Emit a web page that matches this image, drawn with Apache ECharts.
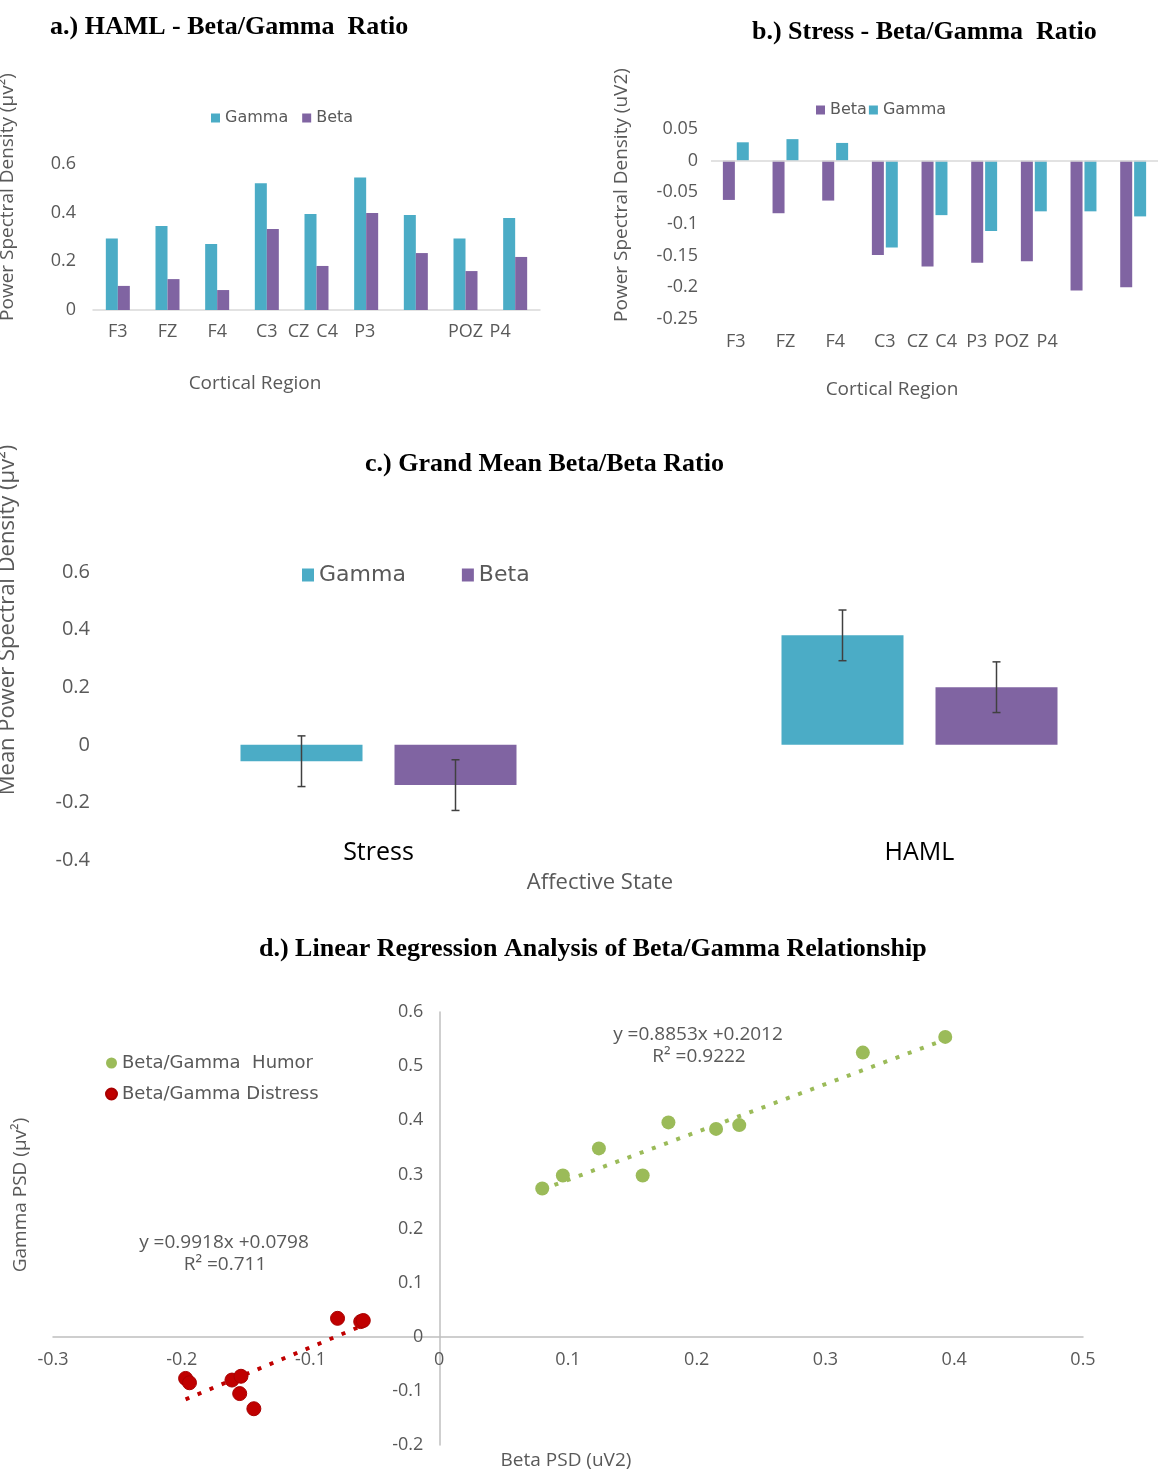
<!DOCTYPE html>
<html>
<head>
<meta charset="utf-8">
<script src="https://cdn.jsdelivr.net/npm/echarts@6/dist/echarts.min.js"></script>
<style>
  html, body { margin: 0; padding: 0; background: #fff; overflow: hidden; }
  /* a little wider than the window: panel c's plot area runs past the right edge */
  #chart { width: 1200px; height: 1470px; }
</style>
</head>
<body>
<div id="chart"></div>
<script>
// cortical regions (panels a and b)
const regions = ['F3', 'FZ', 'F4', 'C3', 'CZ', 'C4', 'P3', 'POZ', 'P4']
// a.) HAML
const hamlGamma = [0.294, 0.345, 0.271, 0.521, 0.395, 0.545, 0.390, 0.294, 0.378]
const hamlBeta = [0.099, 0.127, 0.082, 0.333, 0.181, 0.399, 0.234, 0.160, 0.218]
// b.) Stress
const stressBeta = [-0.062, -0.083, -0.063, -0.149, -0.167, -0.161, -0.159, -0.205, -0.200]
const stressGamma = [0.029, 0.034, 0.028, -0.137, -0.086, -0.111, -0.080, -0.080, -0.088]
// c.) grand means
const states = ['Stress', 'HAML']
const meanGamma = [-0.057, 0.380]
const meanBeta = [-0.140, 0.200]
const errGamma = [0.088, 0.088]
const errBeta = [0.088, 0.088]
// d.) regression (beta, gamma)
const humorPts = [[0.080, 0.274], [0.096, 0.298], [0.124, 0.348], [0.158, 0.298], [0.178, 0.396],
  [0.215, 0.384], [0.233, 0.391], [0.329, 0.525], [0.393, 0.554]]
const distressPts = [[-0.197, -0.077], [-0.194, -0.085], [-0.161, -0.080], [-0.154, -0.073], [-0.155, -0.105],
  [-0.144, -0.133], [-0.079, 0.034], [-0.061, 0.028], [-0.059, 0.030]]
const humorFit = [0.8853, 0.2012]
const distressFit = [0.9918, 0.0798]
const xRangeD = [-0.3, 0.5]
const yRangeD = [-0.2, 0.6]

const GAMMA = '#4bacc6'
const BETA = '#8064a2'
const GREEN = '#9bbb59'
const RED = '#c00000'
const GREY = '#595959'
const FONT = '"Open Sans", sans-serif'

// shift some category labels sideways (the original figure has them crowded)
function shifted(shifts, size) {
  const rich = {}
  shifts.forEach((dx, i) => {
    rich['s' + i] = {
      fontFamily: FONT, fontSize: size, color: GREY,
      padding: dx < 0 ? [0, -2 * dx, 0, 0] : [0, 0, 0, 2 * dx]
    }
  })
  return {
    rich,
    formatter: (v, i) => '{s' + i + '|' + v + '}'
  }
}
const shiftA = shifted([0, 0, 0, 0, -18, -39, -51, 0, -15], 18)
const shiftB = shifted([0, 0, 0, 0, -17, -38, -57, -72, -86], 18)

function fitLine(pts, fit) {
  const xs = pts.map(p => p[0])
  const lo = Math.min(...xs)
  const hi = Math.max(...xs)
  return [[lo, fit[0] * lo + fit[1]], [hi, fit[0] * hi + fit[1]]]
}

// error bar offsets inside a category of panel c
const C_BAR = 122
const C_GAP = 32
function errorSeries(name, means, errs, dir) {
  return {
    name: name + ' error',
    type: 'custom',
    xAxisIndex: 2,
    yAxisIndex: 2,
    z: 5,
    data: means.map((m, i) => [i, m - errs[i], m + errs[i]]),
    renderItem: (params, api) => {
      const lo = api.coord([api.value(0), api.value(1)])
      const hi = api.coord([api.value(0), api.value(2)])
      const x = lo[0] + dir * (C_BAR + C_GAP) / 2
      const st = { stroke: '#404040', lineWidth: 1.5 }
      return {
        type: 'group',
        children: [
          { type: 'line', shape: { x1: x, y1: lo[1], x2: x, y2: hi[1] }, style: st },
          { type: 'line', shape: { x1: x - 4, y1: lo[1], x2: x + 4, y2: lo[1] }, style: st },
          { type: 'line', shape: { x1: x - 4, y1: hi[1], x2: x + 4, y2: hi[1] }, style: st }
        ]
      }
    }
  }
}

function label(text, x, y, size, rot) {
  return {
    type: 'text', x, y, rotation: rot || 0, silent: true,
    style: { text, fill: GREY, font: size + 'px ' + FONT, align: 'center', verticalAlign: 'middle' }
  }
}

// panel d: axes cross at zero, move them (with their labels) in from the grid edges
const gridD = { left: 53, top: 1012, width: 1030, height: 433 }
const xAxisShiftD = -gridD.height * (0 - yRangeD[0]) / (yRangeD[1] - yRangeD[0])
const yAxisShiftD = -gridD.width * (0 - xRangeD[0]) / (xRangeD[1] - xRangeD[0])

const titleStyle = { fontFamily: '"Liberation Serif", serif', fontWeight: 'bold', fontSize: 26, color: '#000' }
const tickStyle = { fontFamily: FONT, fontSize: 18, color: GREY }
const noLine = { show: false }

const option = {
  backgroundColor: '#fff',
  animation: false,
  title: [
    { text: 'a.) HAML - Beta/Gamma  Ratio', left: 50, top: 14, padding: 0, textStyle: titleStyle },
    { text: 'b.) Stress - Beta/Gamma  Ratio', left: 752, top: 19, padding: 0, textStyle: titleStyle },
    { text: 'c.) Grand Mean Beta/Beta Ratio', left: 365, top: 451, padding: 0, textStyle: titleStyle },
    { text: 'd.) Linear Regression Analysis of Beta/Gamma Relationship', left: 259, top: 936, padding: 0, textStyle: titleStyle }
  ],
  legend: [
    {
      data: ['Gamma', 'Beta'], left: 211, top: 110, padding: 0, itemGap: 14,
      icon: 'rect', itemWidth: 9, itemHeight: 9,
      textStyle: { fontFamily: '"DejaVu Sans"', fontSize: 16, color: GREY }
    },
    {
      data: ['Beta', 'Gamma'], left: 816, top: 102, padding: 0, itemGap: 2,
      icon: 'rect', itemWidth: 9, itemHeight: 9,
      textStyle: { fontFamily: '"DejaVu Sans"', fontSize: 16, color: GREY }
    },
    {
      data: ['Gamma', 'Beta'], left: 302, top: 564, padding: 0, itemGap: 56,
      icon: 'rect', itemWidth: 12, itemHeight: 13,
      textStyle: { fontFamily: '"DejaVu Sans"', fontSize: 22, color: GREY }
    },
    {
      data: ['Beta/Gamma  Humor', 'Beta/Gamma Distress'], orient: 'vertical', left: 105, top: 1054,
      padding: 0, itemGap: 13, icon: 'circle', itemWidth: 11, itemHeight: 11,
      textStyle: { fontFamily: '"DejaVu Sans"', fontSize: 18, color: GREY }
    }
  ],
  grid: [
    { left: 93, top: 164, width: 447, height: 146 },
    { left: 711, top: 129, width: 447, height: 190 },
    { left: 108, top: 572, width: 1082, height: 288 },
    gridD
  ],
  xAxis: [
    {
      type: 'category', gridIndex: 0, data: regions,
      axisLine: { lineStyle: { color: '#d9d9d9', width: 1.5 } },
      axisTick: { length: 6, lineStyle: { color: '#d9d9d9', width: 1.5 } },
      axisLabel: Object.assign({ interval: 0, margin: 13 }, tickStyle, shiftA)
    },
    {
      type: 'category', gridIndex: 1, data: regions,
      axisLine: noLine, axisTick: noLine,
      axisLabel: Object.assign({ interval: 0, margin: 14 }, tickStyle, shiftB)
    },
    {
      type: 'category', gridIndex: 2, data: states,
      axisLine: noLine, axisTick: noLine,
      axisLabel: { margin: -20, fontFamily: FONT, fontSize: 25, color: '#000' }
    },
    {
      type: 'value', gridIndex: 3, min: xRangeD[0], max: xRangeD[1], interval: 0.1,
      offset: xAxisShiftD,
      splitLine: noLine, axisTick: noLine,
      axisLine: { onZero: false, lineStyle: { color: '#bfbfbf', width: 1.5 } },
      axisLabel: Object.assign({ margin: 14 }, tickStyle)
    }
  ],
  yAxis: [
    {
      type: 'value', gridIndex: 0, min: 0, max: 0.6, interval: 0.2,
      splitLine: noLine, axisLine: noLine, axisTick: noLine,
      axisLabel: Object.assign({ margin: 17 }, tickStyle)
    },
    {
      type: 'value', gridIndex: 1, min: -0.25, max: 0.05, interval: 0.05,
      splitLine: noLine, axisLine: noLine, axisTick: noLine,
      axisLabel: Object.assign({ margin: 13 }, tickStyle)
    },
    {
      type: 'value', gridIndex: 2, min: -0.4, max: 0.6, interval: 0.2,
      splitLine: noLine, axisLine: noLine, axisTick: noLine,
      axisLabel: { margin: 18, fontFamily: FONT, fontSize: 20, color: GREY }
    },
    {
      type: 'value', gridIndex: 3, min: yRangeD[0], max: yRangeD[1], interval: 0.1,
      offset: yAxisShiftD,
      splitLine: noLine, axisTick: noLine,
      axisLine: { onZero: false, lineStyle: { color: '#bfbfbf', width: 1.5 } },
      axisLabel: Object.assign({ margin: 16 }, tickStyle)
    }
  ],
  series: [
    // a
    { name: 'Gamma', type: 'bar', xAxisIndex: 0, yAxisIndex: 0, data: hamlGamma, barWidth: 12, barGap: '0%', itemStyle: { color: GAMMA } },
    { name: 'Beta', type: 'bar', xAxisIndex: 0, yAxisIndex: 0, data: hamlBeta, barWidth: 12, barGap: '0%', itemStyle: { color: BETA } },
    // b
    {
      name: 'Beta', type: 'bar', xAxisIndex: 1, yAxisIndex: 1, data: stressBeta, barWidth: 12, barGap: '16%',
      itemStyle: { color: BETA },
      markLine: {
        silent: true, symbol: 'none', label: { show: false },
        lineStyle: { color: '#d9d9d9', width: 1.5, type: 'solid' },
        data: [{ yAxis: 0 }]
      }
    },
    { name: 'Gamma', type: 'bar', xAxisIndex: 1, yAxisIndex: 1, data: stressGamma, barWidth: 12, barGap: '16%', itemStyle: { color: GAMMA } },
    // c
    { name: 'Gamma', type: 'bar', xAxisIndex: 2, yAxisIndex: 2, data: meanGamma, barWidth: C_BAR, barGap: (C_GAP / C_BAR * 100) + '%', itemStyle: { color: GAMMA } },
    { name: 'Beta', type: 'bar', xAxisIndex: 2, yAxisIndex: 2, data: meanBeta, barWidth: C_BAR, barGap: (C_GAP / C_BAR * 100) + '%', itemStyle: { color: BETA } },
    errorSeries('Gamma', meanGamma, errGamma, -1),
    errorSeries('Beta', meanBeta, errBeta, 1),
    // d
    {
      name: 'Beta/Gamma  Humor', type: 'scatter', xAxisIndex: 3, yAxisIndex: 3,
      data: humorPts, symbolSize: 14, itemStyle: { color: GREEN, opacity: 1 }, z: 3
    },
    {
      name: 'Beta/Gamma Distress', type: 'scatter', xAxisIndex: 3, yAxisIndex: 3,
      data: distressPts, symbolSize: 14, itemStyle: { color: RED, borderColor: '#a80000', borderWidth: 1, opacity: 1 }, z: 3
    },
    {
      name: 'humor fit', type: 'line', xAxisIndex: 3, yAxisIndex: 3, data: fitLine(humorPts, humorFit),
      symbol: 'none', silent: true, lineStyle: { color: GREEN, width: 4, type: [4, 9] }, z: 2
    },
    {
      name: 'distress fit', type: 'line', xAxisIndex: 3, yAxisIndex: 3, data: fitLine(distressPts, distressFit),
      symbol: 'none', silent: true, lineStyle: { color: RED, width: 4, type: [4, 9] }, z: 2
    }
  ],
  graphic: [
    label('Power Spectral Density (μv²)', 8, 197, 19, Math.PI / 2),
    label('Cortical Region', 255, 384, 19),
    label('Power Spectral Density (uV2)', 622, 195, 19, Math.PI / 2),
    label('Cortical Region', 892, 390, 19),
    label('Mean Power Spectral Density (μv²)', 8, 620, 22, Math.PI / 2),
    label('Affective State', 600, 883, 22),
    label('Gamma PSD (μv²)', 21, 1195, 19, Math.PI / 2),
    label('Beta PSD (uV2)', 566, 1461, 19),
    label('y =0.8853x +0.2012', 698, 1035, 19),
    label('R² =0.9222', 699, 1057, 19),
    label('y =0.9918x +0.0798', 224, 1243, 19),
    label('R² =0.711', 225, 1265, 19)
  ]
}

const chart = echarts.init(document.getElementById('chart'))
chart.setOption(option)
</script>
</body>
</html>
